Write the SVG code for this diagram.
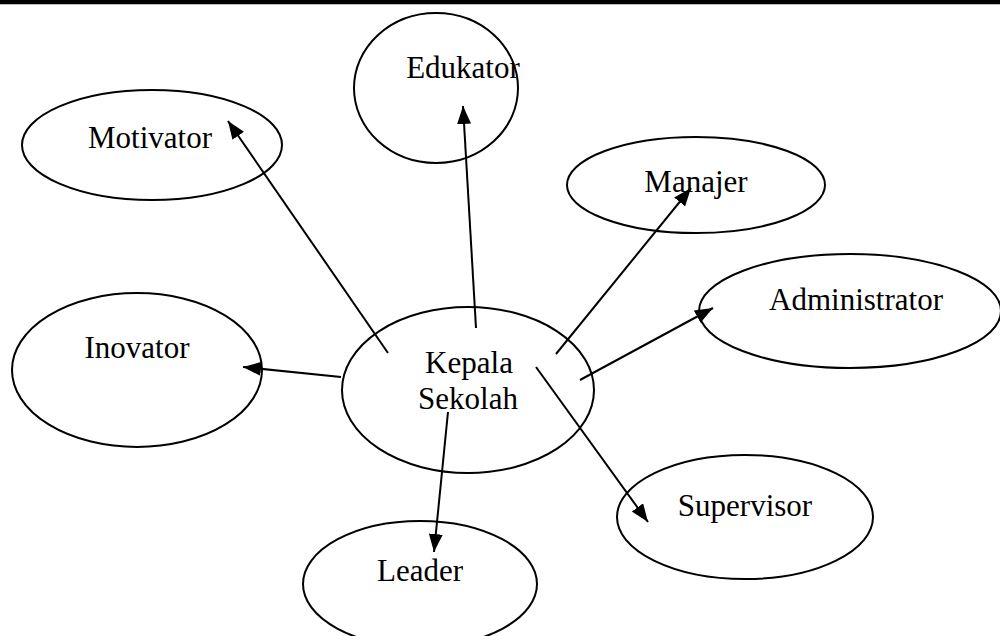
<svg xmlns="http://www.w3.org/2000/svg" width="1000" height="636" viewBox="0 0 1000 636">
<style>
.n ellipse{fill:#fff;stroke:#000;stroke-width:2}
.n text{font-family:"Liberation Serif","Times New Roman",serif;font-size:31px;fill:#000;text-anchor:middle}
.c line{stroke:#000;stroke-width:2;marker-end:url(#ah)}
</style>
<defs>
<marker id="ah" markerUnits="userSpaceOnUse" markerWidth="19" markerHeight="15" refX="18" refY="7" orient="auto">
<path d="M0,0 L18,7 L0,14 z" fill="#000"/>
</marker>
</defs>
<rect x="0" y="0" width="1000" height="4" fill="#000"/>
<line x1="0" y1="4.5" x2="1000" y2="4.5" stroke="#bbb" stroke-width="1"/>
<g class="n">
<g id="edukator"><ellipse cx="436" cy="88" rx="82" ry="75"/><text x="463" y="78">Edukator</text></g>
<g id="motivator"><ellipse cx="152" cy="145" rx="130" ry="55"/><text x="150" y="148">Motivator</text></g>
<g id="manajer"><ellipse cx="696" cy="185" rx="129" ry="48"/><text x="696" y="192">Manajer</text></g>
<g id="administrator"><ellipse cx="850" cy="311" rx="151" ry="57"/><text x="856" y="310">Administrator</text></g>
<g id="inovator"><ellipse cx="137" cy="370" rx="125" ry="77"/><text x="137" y="358">Inovator</text></g>
<g id="kepala"><ellipse cx="468" cy="390" rx="126" ry="83"/><text x="469" y="373">Kepala</text><text x="468" y="409">Sekolah</text></g>
<g id="supervisor"><ellipse cx="745" cy="517" rx="128" ry="62"/><text x="745" y="516">Supervisor</text></g>
<g id="leader"><ellipse cx="420" cy="584" rx="117" ry="63"/><text x="420" y="581">Leader</text></g>
</g>
<g class="c">
<line x1="388" y1="353" x2="228" y2="121"/>
<line x1="476" y1="328" x2="463" y2="106"/>
<line x1="556" y1="354" x2="691" y2="188"/>
<line x1="580" y1="380" x2="713" y2="308"/>
<line x1="341" y1="377" x2="243" y2="367"/>
<line x1="448" y1="412" x2="434" y2="552"/>
<line x1="536" y1="367" x2="648" y2="522"/>
</g>
</svg>
